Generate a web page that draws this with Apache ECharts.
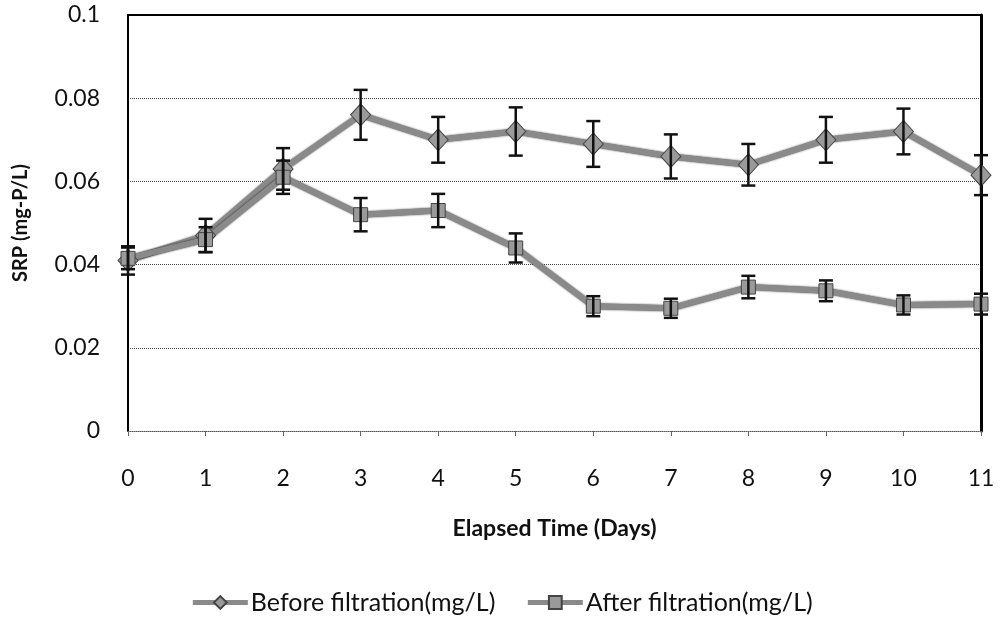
<!DOCTYPE html>
<html>
<head>
<meta charset="utf-8">
<script src="https://cdn.jsdelivr.net/npm/echarts@6/dist/echarts.min.js"></script>
<style>
  html, body { margin: 0; padding: 0; background: #fff; }
  #chart { width: 1003px; height: 619px; }
</style>
</head>
<body>
<div id="chart"></div>
<script>
var days = [0, 1, 2, 3, 4, 5, 6, 7, 8, 9, 10, 11];
var before = [0.041, 0.047, 0.063, 0.076, 0.070, 0.072, 0.069, 0.066, 0.064, 0.070, 0.072, 0.0615];
var beforeErr = [0.0034, 0.004, 0.005, 0.006, 0.0055, 0.0058, 0.0055, 0.0053, 0.005, 0.0055, 0.0055, 0.0048];
var after = [0.0415, 0.046, 0.061, 0.052, 0.053, 0.044, 0.030, 0.0295, 0.0346, 0.0337, 0.0303, 0.0305];
var afterErr = [0.0026, 0.003, 0.004, 0.004, 0.004, 0.0035, 0.0024, 0.0023, 0.0027, 0.0025, 0.0023, 0.0025];
var yTicks = [0, 0.02, 0.04, 0.06, 0.08, 0.1];

var font = 'Lato, "Open Sans", sans-serif';

function pairs(ys) {
  return days.map(function(d, i) { return [d, ys[i]]; });
}
function errData(ys, es) {
  return days.map(function(d, i) { return [d, ys[i] - es[i], ys[i] + es[i]]; });
}

function renderErr(params, api) {
  var lo = api.coord([api.value(0), api.value(1)]);
  var hi = api.coord([api.value(0), api.value(2)]);
  var w = 7;
  var st = { stroke: '#111', lineWidth: 2.5 };
  return {
    type: 'group',
    children: [
      { type: 'line', shape: { x1: lo[0], y1: lo[1], x2: hi[0], y2: hi[1] }, style: st },
      { type: 'line', shape: { x1: lo[0] - w, y1: lo[1], x2: lo[0] + w, y2: lo[1] }, style: st },
      { type: 'line', shape: { x1: hi[0] - w, y1: hi[1], x2: hi[0] + w, y2: hi[1] }, style: st }
    ]
  };
}

var chart = echarts.init(document.getElementById('chart'));

var lineStyle = { color: '#8a8a8a', width: 6, shadowColor: 'rgba(0,0,0,0.8)', shadowBlur: 2 };
var itemStyle = { color: '#9a9a9a', borderColor: '#444', borderWidth: 1 };

chart.setOption({
  animation: false,
  grid: { left: 128, right: 22, top: 15, bottom: 188 },
  legend: {
    top: 585,
    left: 'center',
    itemGap: 30,
    itemWidth: 55,
    itemHeight: 16,
    lineStyle: { width: 5, color: '#8a8a8a' },
    textStyle: { fontFamily: font, fontSize: 25, color: '#111', padding: [0, 0, 0, -2] },
    data: ['Before filtration(mg/L)', 'After filtration(mg/L)']
  },
  xAxis: [{
    type: 'value',
    min: 0,
    max: 11,
    interval: 1,
    name: 'Elapsed Time (Days)',
    nameLocation: 'middle',
    nameGap: 86,
    nameTextStyle: { fontFamily: font, fontSize: 23, fontWeight: 'bold', color: '#111' },
    axisLine: { onZero: false, lineStyle: { color: '#555', width: 1, type: 'dotted' } },
    axisTick: { show: true, length: 5, lineStyle: { color: '#666' } },
    axisLabel: { fontFamily: font, fontSize: 23, color: '#111', margin: 36 },
    splitLine: { show: false }
  }, {
    type: 'value',
    position: 'top',
    min: 0,
    max: 11,
    axisLine: { show: true, onZero: false, lineStyle: { color: '#000', width: 2 } },
    axisTick: { show: false },
    axisLabel: { show: false },
    splitLine: { show: false }
  }],
  yAxis: [{
    type: 'value',
    min: 0,
    max: 0.1,
    interval: 0.02,
    name: 'SRP (mg-P/L)',
    nameLocation: 'middle',
    nameGap: 97,
    nameTextStyle: { fontFamily: font, fontSize: 20, fontWeight: 'bold', color: '#111' },
    axisLine: { show: true, onZero: false, lineStyle: { color: '#000', width: 2 } },
    axisTick: { show: false },
    axisLabel: {
      fontFamily: font, fontSize: 23, color: '#111', margin: 28,
      formatter: function(v) {
        for (var i = 0; i < yTicks.length; i++) {
          if (Math.abs(v - yTicks[i]) < 1e-9) return String(yTicks[i]);
        }
        return '';
      }
    },
    splitLine: { show: true, lineStyle: { color: '#444', width: 1, type: 'dotted' } }
  }, {
    type: 'value',
    position: 'right',
    min: 0,
    max: 0.1,
    axisLine: { show: true, onZero: false, lineStyle: { color: '#000', width: 3 } },
    axisTick: { show: false },
    axisLabel: { show: false },
    splitLine: { show: false }
  }],
  series: [{
    name: 'Before filtration(mg/L)',
    type: 'line',
    data: pairs(before),
    symbol: 'diamond',
    symbolSize: [20, 22],
    lineStyle: lineStyle,
    itemStyle: itemStyle,
    z: 3
  }, {
    name: 'After filtration(mg/L)',
    type: 'line',
    data: pairs(after),
    symbol: 'rect',
    symbolSize: 14,
    lineStyle: lineStyle,
    itemStyle: itemStyle,
    z: 3
  }, {
    type: 'custom',
    renderItem: renderErr,
    data: errData(before, beforeErr),
    encode: { x: 0, y: [1, 2] },
    z: 4
  }, {
    type: 'custom',
    renderItem: renderErr,
    data: errData(after, afterErr),
    encode: { x: 0, y: [1, 2] },
    z: 4
  }]
});
</script>
</body>
</html>
